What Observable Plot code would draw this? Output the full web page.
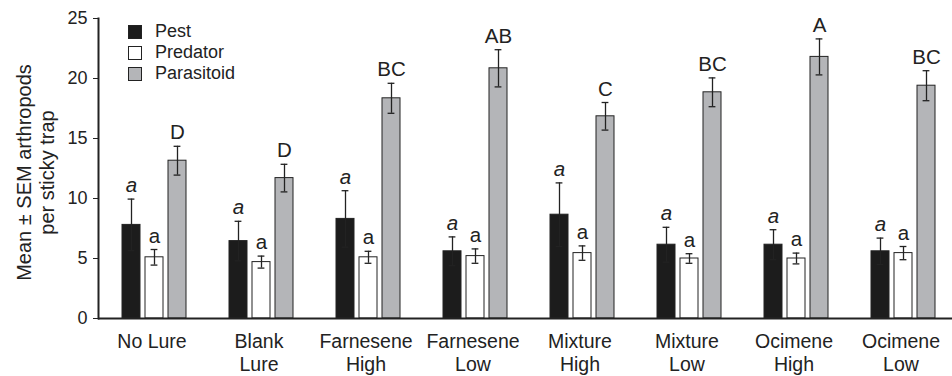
<!DOCTYPE html>
<html><head><meta charset="utf-8">
<script src="https://cdn.jsdelivr.net/npm/d3@7"></script>
<script src="https://cdn.jsdelivr.net/npm/@observablehq/plot@0.6"></script>
<style>
html,body{margin:0;padding:0;background:#fff;overflow:hidden;}
#wrap{position:relative;width:952px;height:376px;overflow:hidden;}
.legend{position:absolute;left:128px;top:21px;font:18px "Liberation Sans",Arial,sans-serif;color:#222;}
.legend div{display:flex;align-items:center;height:21px;}
.sw{width:12px;height:12px;border:1px solid #222;margin-right:13px;}
</style></head><body><div id="wrap"></div>
<script>
const categories = ["No Lure","Blank Lure","Farnesene High","Farnesene Low","Mixture High","Mixture Low","Ocimene High","Ocimene Low"];
const tickLabels = ["No Lure","Blank\nLure","Farnesene\nHigh","Farnesene\nLow","Mixture\nHigh","Mixture\nLow","Ocimene\nHigh","Ocimene\nLow"];
const series = ["Pest","Predator","Parasitoid"];
const seriesColors = ["#1c1c1c","#ffffff","#b4b5b8"];
const pestMean = [7.8,6.45,8.3,5.6,8.65,6.15,6.15,5.6];
const pestSE = [2.15,1.65,2.35,1.2,2.65,1.45,1.25,1.1];
const predatorMean = [5.1,4.7,5.1,5.2,5.45,5.0,5.0,5.45];
const predatorSE = [0.65,0.5,0.5,0.6,0.6,0.4,0.45,0.55];
const parasitoidMean = [13.15,11.7,18.35,20.85,16.85,18.85,21.8,19.4];
const parasitoidSE = [1.2,1.15,1.25,1.55,1.15,1.2,1.5,1.25];
const pestLetters = ["a","a","a","a","a","a","a","a"];
const predatorLetters = ["a","a","a","a","a","a","a","a"];
const parasitoidLetters = ["D","D","BC","AB","C","BC","A","BC"];
const yTicks = [0,5,10,15,20,25];
const yTitle = "Mean \u00b1 SEM arthropods\nper sticky trap";

const means = [pestMean, predatorMean, parasitoidMean];
const ses = [pestSE, predatorSE, parasitoidSE];
const letters = [pestLetters, predatorLetters, parasitoidLetters];
const rows = categories.flatMap((c, i) => series.map((s, k) => ({
  category: c, series: s, mean: means[k][i], se: ses[k][i], letter: letters[k][i]
})));
const font = '"Liberation Sans", Arial, sans-serif';

const plot = Plot.plot({
  width: 952, height: 376,
  marginLeft: 98, marginRight: 0, marginTop: 18, marginBottom: 58,
  style: {fontFamily: font, color: "#222", background: "#fff"},
  fx: {domain: categories, range: [98, 957.2], paddingInner: 0, paddingOuter: 0, align: 0},
  x: {domain: series, paddingInner: 0.2, paddingOuter: 0.8375, align: 0.572, axis: null},
  y: {domain: [0, 25]},
  color: {domain: series, range: seriesColors},
  marks: [
    Plot.barY(rows, {fx: "category", x: "series", y: "mean", fill: "series", stroke: "#222", strokeWidth: 1}),
    Plot.ruleX(rows, {fx: "category", x: "series", y1: d => d.mean - d.se, y2: d => d.mean + d.se, stroke: "#222", strokeWidth: 1.3}),
    Plot.tickY(rows, {fx: "category", x: "series", y: d => d.mean + d.se, inset: 5.6, stroke: "#222", strokeWidth: 1.3}),
    Plot.tickY(rows, {fx: "category", x: "series", y: d => d.mean - d.se, inset: 5.6, stroke: "#222", strokeWidth: 1.3}),
    Plot.text(rows.filter(d => d.series === "Pest"), {fx: "category", x: "series", y: d => d.mean + d.se, text: "letter", dy: -7, lineAnchor: "bottom", fontSize: 20.5, fontStyle: "italic", fill: "#222"}),
    Plot.text(rows.filter(d => d.series !== "Pest"), {fx: "category", x: "series", y: d => d.mean + d.se, text: "letter", dy: -7, lineAnchor: "bottom", fontSize: 20.5, fill: "#222"}),
    Plot.ruleY([0], {stroke: "#222", strokeWidth: 2}),
    Plot.frame({anchor: "left", facetAnchor: "left", stroke: "#222", strokeWidth: 2}),
    Plot.axisY({ticks: yTicks, tickSize: 5, tickPadding: 6, fontSize: 18, label: null, stroke: "#222"}),
    Plot.text([yTitle], {frameAnchor: "left", facetAnchor: "left", textAnchor: "middle", rotate: -90, dx: -63, dy: 4, fontSize: 20, lineHeight: 1.15, fill: "#222"}),
    Plot.axisFx({anchor: "bottom", tickFormat: d => tickLabels[categories.indexOf(d)], tickSize: 0, tickPadding: 13, fontSize: 19.5, lineHeight: 1.18, label: null})
  ]
});

const wrap = document.getElementById("wrap");
wrap.appendChild(plot);
const legend = document.createElement("div");
legend.className = "legend";
series.forEach((s, k) => {
  const row = document.createElement("div");
  const sw = document.createElement("span");
  sw.className = "sw";
  sw.style.background = seriesColors[k];
  row.appendChild(sw);
  row.appendChild(document.createTextNode(s));
  legend.appendChild(row);
});
wrap.appendChild(legend);
</script></body></html>
